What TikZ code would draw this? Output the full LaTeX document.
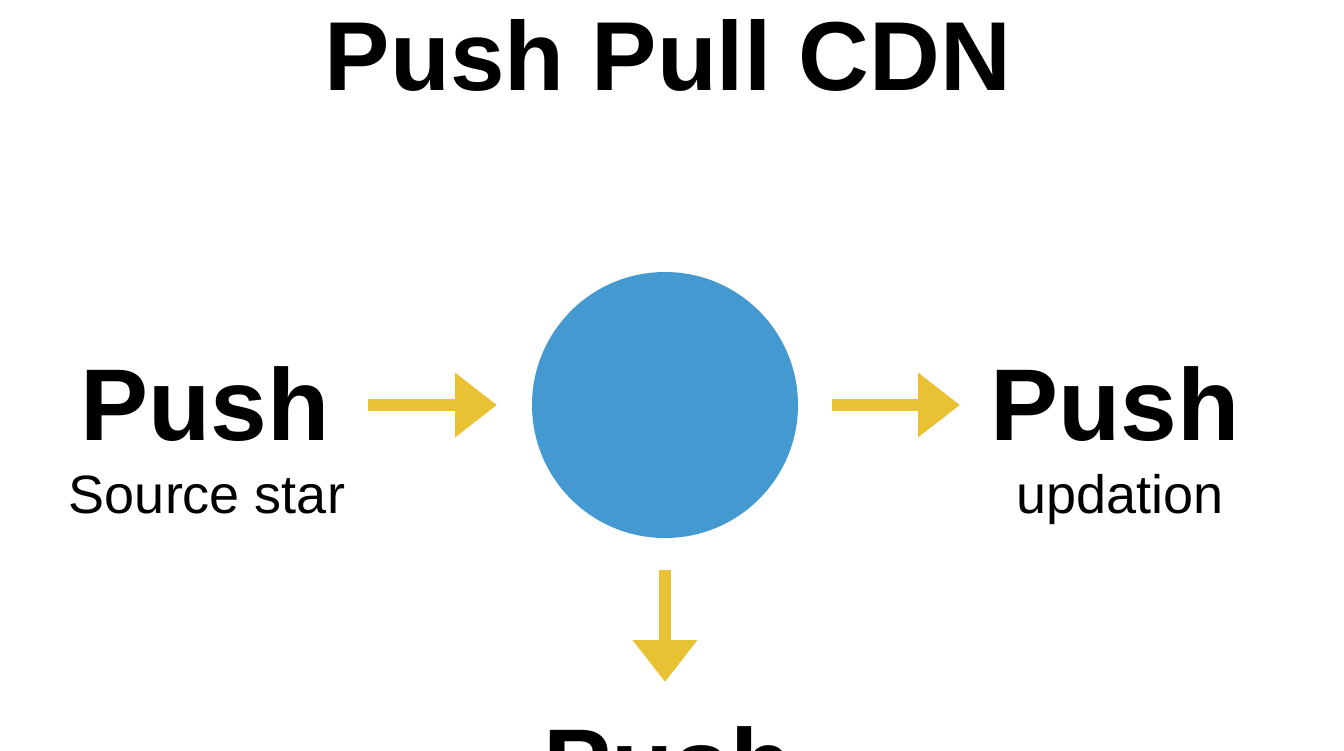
\documentclass[tikz,border=0pt]{standalone}
\usepackage{fontspec}
\setmainfont{Liberation Sans}
\usetikzlibrary{arrows.meta}
\definecolor{arr}{HTML}{E8C232}
\definecolor{circ}{HTML}{4499D0}
\begin{document}
\begin{tikzpicture}[x=1pt,y=-1pt,
  big/.style={anchor=base,font=\fontsize{102}{110}\selectfont\bfseries},
  small/.style={anchor=base,font=\fontsize{54}{58}\selectfont},
  ar/.style={draw=arr,line width=12pt,-{Triangle[length=42pt,width=62pt]}}]
\useasboundingbox[fill=white] (0,0) rectangle (1344,750);
\node[anchor=base,font=\fontsize{98}{104}\selectfont\bfseries] (title) at (668,90) {Push Pull CDN};
\node[circle,fill=circ,minimum size=266pt,inner sep=0pt] (c) at (665,405) {};
\node[big] (l) at (205,440) {Push};
\node[small] (ls) at (207,513) {Source star};
\node[big] (r) at (1115,440) {Push};
\node[small] (rs) at (1120,513) {updation};
\node[big] (b) at (668,800) {Push};
\coordinate (a1) at (368,405); \coordinate (a2) at (497,405);
\coordinate (b1) at (832,405); \coordinate (b2) at (960,405);
\coordinate (c1) at (665,570); \coordinate (c2) at (665,682);
\draw[ar] (a1) -- (a2);
\draw[ar] (b1) -- (b2);
\draw[ar] (c1) -- (c2);
\end{tikzpicture}
\end{document}
